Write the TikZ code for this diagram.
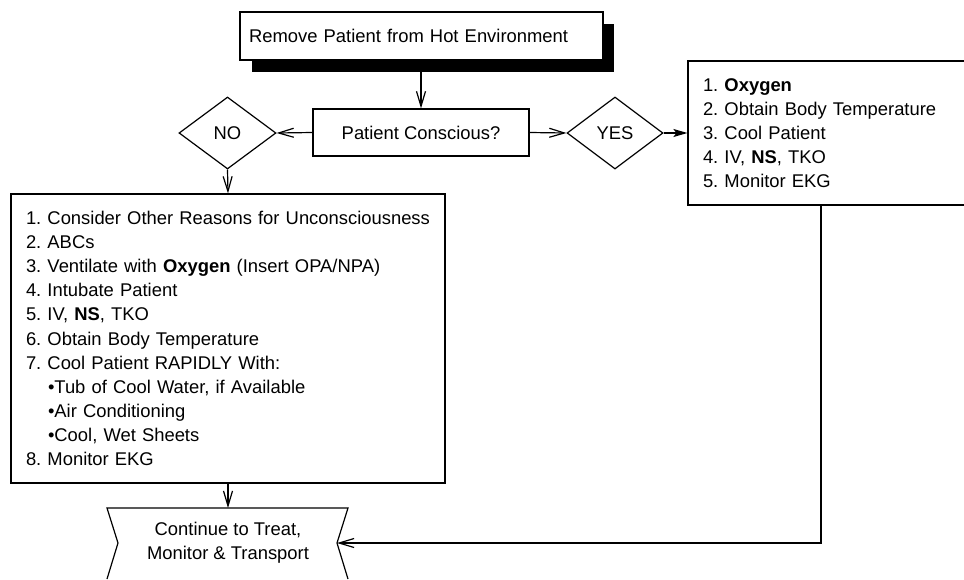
\documentclass[tikz,border=0pt]{standalone}
\usepackage{fontspec}
\setmainfont{Liberation Sans}
\usetikzlibrary{arrows.meta,shapes.geometric}
\newcommand\mynodefont{\fontsize{18.4}{24.1}\selectfont\frenchspacing\hyphenpenalty=10000\relax}
\begin{document}
\begin{tikzpicture}[x=1pt,y=-1pt,
  every node/.style={font=\mynodefont},
  ln/.style={line width=1.2pt},
  boxn/.style={draw,ln,fill=white,rectangle,inner sep=0pt},
  dia/.style={draw,ln,diamond,inner sep=0pt},
  oarr/.style={ln,-{Straight Barb[length=15pt,width=9pt]}},
  farr/.style={ln,-{Stealth[length=14pt,width=8pt,inset=3pt]}}]
\useasboundingbox (0,0) rectangle (964,579);
\clip (0,0) rectangle (964,579);
% top box with shadow
\node[fill=black,minimum width=362pt,minimum height=48pt,inner sep=0pt] (shadow) at (433,48) {};
\node[boxn,minimum width=363pt,minimum height=48pt,text width=345pt,inner xsep=9pt,align=left] (remove) at (421.5,36) {Remove Patient from Hot Environment};
% decision
\node[boxn,minimum width=216pt,minimum height=47pt] (pc) at (421,132.5) {Patient Conscious?};
\node[dia,minimum width=97pt,minimum height=72pt] (no) at (227.5,133) {NO};
\node[dia,minimum width=96pt,minimum height=72pt] (yes) at (615,133) {YES};
% right box
\node[boxn,minimum width=278pt,minimum height=144pt,text width=248pt,inner xsep=15pt,align=left] (rbox) at (827,133)
 {1. \textbf{Oxygen}\\2. Obtain Body Temperature\\3. Cool Patient\\4. IV, \textbf{NS}, TKO\\5. Monitor EKG};
% big box
\node[boxn,minimum width=434pt,minimum height=289pt,text width=404pt,inner xsep=15pt,align=left] (big) at (228,338.5)
 {1. Consider Other Reasons for Unconsciousness\\
  2. ABCs\\
  3. Ventilate with \textbf{Oxygen} (Insert OPA/NPA)\\
  4. Intubate Patient\\
  5. IV, \textbf{NS}, TKO\\
  6. Obtain Body Temperature\\
  7. Cool Patient RAPIDLY With:\\
  \hspace*{22pt}\textbullet Tub of Cool Water, if Available\\
  \hspace*{22pt}\textbullet Air Conditioning\\
  \hspace*{22pt}\textbullet Cool, Wet Sheets\\
  8. Monitor EKG};
% bottom shape
\node[align=center,inner sep=0pt] (cont) at (228,542.5) {Continue to Treat,\\Monitor \& Transport};
\coordinate (contN) at (228,508);
\coordinate (contE) at (337,543);
\draw[ln,line join=miter] (107,579) -- (118,543) -- (107,508) -- (348,508) -- (contE) -- (348,579);
% connectors
\draw[oarr] (pc.north |- shadow.south) -- (pc.north);
\draw[oarr] (pc.west) -- (no.east);
\draw[oarr] (pc.east) -- (yes.west);
\draw[farr] (yes.east) -- (rbox.west |- yes.east);
\draw[oarr] (no.south) -- (big.north);
\draw[oarr] (big.south) -- (contN);
\draw[oarr] ([xshift=-6pt]rbox.south) |- (contE);
\end{tikzpicture}
\end{document}
